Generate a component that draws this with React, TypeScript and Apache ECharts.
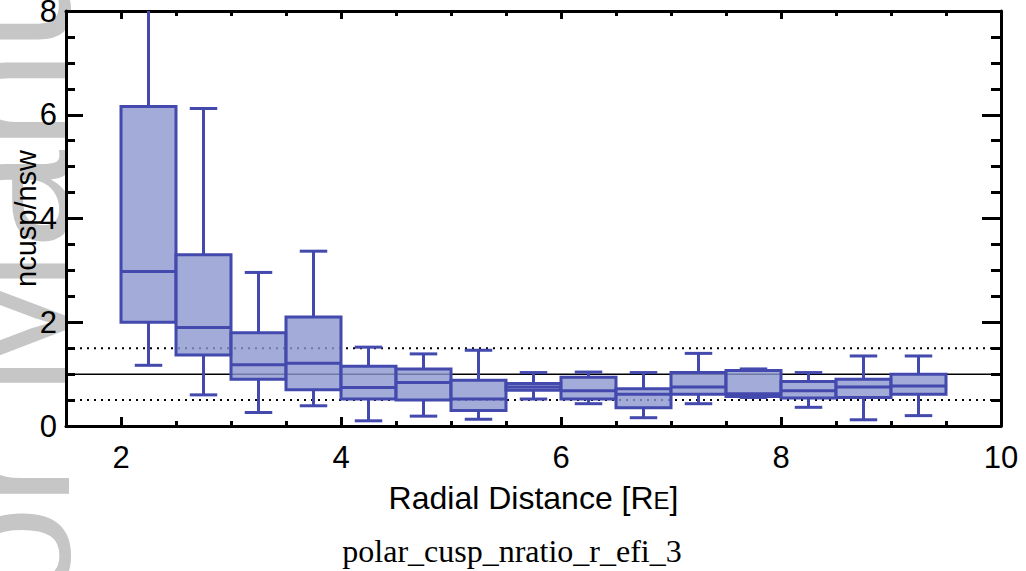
import React, { useEffect, useRef } from "react";
import * as echarts from "echarts";

// ---- data ----
const xCenters = [2.25, 2.75, 3.25, 3.75, 4.25, 4.75, 5.25, 5.75, 6.25, 6.75, 7.25, 7.75, 8.25, 8.75, 9.25];
const whiskerLow = [1.17, 0.6, 0.26, 0.39, 0.1, 0.19, 0.13, 0.52, 0.43, 0.16, 0.43, 0.55, 0.36, 0.12, 0.2];
const q1 = [2.0, 1.37, 0.9, 0.7, 0.52, 0.5, 0.3, 0.69, 0.52, 0.35, 0.61, 0.57, 0.54, 0.55, 0.61];
const median = [2.98, 1.9, 1.18, 1.21, 0.74, 0.84, 0.52, 0.75, 0.68, 0.61, 0.75, 0.62, 0.68, 0.75, 0.77];
const q3 = [6.16, 3.3, 1.8, 2.1, 1.15, 1.1, 0.88, 0.82, 0.94, 0.72, 1.03, 1.07, 0.86, 0.9, 1.0];
const whiskerHigh = [8.6, 6.12, 2.96, 3.37, 1.52, 1.39, 1.46, 1.03, 1.04, 1.03, 1.4, 1.1, 1.03, 1.35, 1.35];

const xMajorTicks = [2, 4, 6, 8, 10];
const xMinorTicks = [2.5, 3, 3.5, 4.5, 5, 5.5, 6.5, 7, 7.5, 8.5, 9, 9.5];
const refSolid = 1;
const refDotted = [0.5, 1.5];
const xRange = [1.5, 10];
const yRange = [0, 8];

const FONT = "'Liberation Sans', Arial, Helvetica, sans-serif";
const EDGE = "#4349ad";
const FILL = "rgba(140,150,208,0.8)";

export default function App() {
  const ref = useRef<HTMLDivElement>(null);
  useEffect(() => {
    if (!ref.current) return;
    const chart = echarts.init(ref.current, null, { renderer: "svg" });
    const boxData = xCenters.map((x, i) => [x, whiskerLow[i], q1[i], median[i], q3[i], whiskerHigh[i]]);

    const commonX = { type: "value", min: xRange[0], max: xRange[1], splitLine: { show: false } };
    const black = { color: "#000" };

    const option: any = {
      animation: false,
      backgroundColor: "#fff",
      grid: {
        left: 66,
        top: 11,
        width: 935,
        height: 415,
        show: true,
        backgroundColor: "#fff",
        borderWidth: 0,
        containLabel: false,
        outerBoundsMode: "none",
      },
      xAxis: [
        {
          ...commonX,
          position: "bottom",
          axisLine: { show: true, lineStyle: { ...black, width: 3 } },
          axisTick: { show: true, inside: true, length: 9, customValues: xMajorTicks, lineStyle: { ...black, width: 3 } },
          axisLabel: { show: true, customValues: xMajorTicks, fontSize: 31, color: "#000", fontFamily: FONT, margin: 16 },
          name: "{a|Radial Distance [R}{b|E}{a|]}",
          nameLocation: "middle",
          nameGap: 52,
          nameMoveOverlap: false,
          nameTextStyle: {
            rich: {
              a: { fontSize: 32, fontFamily: FONT, color: "#000", verticalAlign: "bottom", lineHeight: 36 },
              b: { fontSize: 24, fontFamily: FONT, color: "#000", verticalAlign: "bottom", lineHeight: 36, padding: [0, 0, 2, 0] },
            },
          },
        },
        {
          ...commonX,
          position: "bottom",
          axisLine: { show: false },
          axisTick: { show: true, inside: true, length: 5, customValues: xMinorTicks, lineStyle: { ...black, width: 3 } },
          axisLabel: { show: false },
        },
        {
          ...commonX,
          position: "top",
          axisLine: { show: true, lineStyle: { ...black, width: 3 } },
          axisTick: { show: true, inside: true, length: 8, customValues: xMajorTicks, lineStyle: { ...black, width: 3 } },
          axisLabel: { show: false },
        },
        {
          ...commonX,
          position: "top",
          axisLine: { show: false },
          axisTick: { show: true, inside: true, length: 5, customValues: xMinorTicks, lineStyle: { ...black, width: 3 } },
          axisLabel: { show: false },
        },
      ],
      yAxis: [
        {
          type: "value",
          min: yRange[0],
          max: yRange[1],
          interval: 2,
          position: "left",
          splitLine: { show: false },
          axisLine: { show: true, lineStyle: { ...black, width: 3 } },
          axisTick: { show: true, inside: true, length: 17, lineStyle: { ...black, width: 3 } },
          minorTick: { show: true, splitNumber: 4, length: 9, lineStyle: { ...black, width: 3 } },
          axisLabel: { fontSize: 31, color: "#000", fontFamily: FONT, margin: 9 },
          name: "ncusp/nsw",
          nameLocation: "middle",
          nameGap: 26,
          nameMoveOverlap: false,
          nameTextStyle: { fontSize: 29, color: "#000", fontFamily: FONT },
        },
        {
          type: "value",
          min: yRange[0],
          max: yRange[1],
          interval: 2,
          position: "right",
          splitLine: { show: false },
          axisLine: { show: true, lineStyle: { ...black, width: 3 } },
          axisTick: { show: true, inside: true, length: 19, lineStyle: { ...black, width: 3 } },
          minorTick: { show: true, splitNumber: 4, length: 10, lineStyle: { ...black, width: 3 } },
          axisLabel: { show: false },
        },
      ],
      graphic: [
        {
          type: "text",
          z: -10,
          x: 96,
          y: 605,
          rotation: Math.PI / 2,
          style: { text: "or Manu", font: "178px " + FONT, fill: "#c6c6c6", align: "left", verticalAlign: "bottom" },
        },
        {
          type: "text",
          x: 512,
          y: 551,
          style: { text: "polar_cusp_nratio_r_efi_3", font: "32px 'Liberation Serif', 'DejaVu Serif', serif", fill: "#000", align: "center", verticalAlign: "middle" },
        },
      ],
      series: [
        {
          type: "line",
          xAxisIndex: 0,
          yAxisIndex: 0,
          data: [[xRange[0], refSolid], [xRange[1], refSolid]],
          symbol: "none",
          lineStyle: { color: "#000", width: 1.5 },
          z: 1,
        },
        ...refDotted.map((v) => ({
          type: "line",
          xAxisIndex: 0,
          yAxisIndex: 0,
          data: [[xRange[0], v], [xRange[1], v]],
          symbol: "none",
          lineStyle: { color: "#000", width: 2, type: [2, 5] },
          z: 1,
        })),
        {
          type: "custom",
          xAxisIndex: 0,
          yAxisIndex: 0,
          clip: true,
          z: 3,
          data: boxData,
          renderItem: (params: any, api: any) => {
            const x = api.value(0);
            const lo = api.value(1);
            const a = api.value(2);
            const m = api.value(3);
            const b = api.value(4);
            const hi = api.value(5);
            const half = 0.25;
            const cap = 0.125;
            const tl = api.coord([x - half, b]);
            const br = api.coord([x + half, a]);
            const c = api.coord([x, m]);
            const top = api.coord([x, hi]);
            const bot = api.coord([x, lo]);
            const capL = api.coord([x - cap, hi]);
            const capR = api.coord([x + cap, hi]);
            const capL2 = api.coord([x - cap, lo]);
            const capR2 = api.coord([x + cap, lo]);
            const ls = { stroke: EDGE, lineWidth: 3 };
            return {
              type: "group",
              children: [
                { type: "line", shape: { x1: top[0], y1: top[1], x2: top[0], y2: tl[1] }, style: ls },
                { type: "line", shape: { x1: capL[0], y1: capL[1], x2: capR[0], y2: capR[1] }, style: ls },
                { type: "line", shape: { x1: bot[0], y1: bot[1], x2: bot[0], y2: br[1] }, style: ls },
                { type: "line", shape: { x1: capL2[0], y1: capL2[1], x2: capR2[0], y2: capR2[1] }, style: ls },
                {
                  type: "rect",
                  shape: { x: tl[0], y: tl[1], width: br[0] - tl[0], height: br[1] - tl[1] },
                  style: { fill: FILL, stroke: EDGE, lineWidth: 3 },
                },
                { type: "line", shape: { x1: tl[0], y1: c[1], x2: br[0], y2: c[1] }, style: ls },
              ],
            };
          },
        },
      ],
    };
    chart.setOption(option);
    return () => chart.dispose();
  }, []);
  return (
    <div
      ref={ref}
      style={{ position: "absolute", left: 0, top: 0, width: 1026, height: 571, background: "#fff" }}
    />
  );
}
